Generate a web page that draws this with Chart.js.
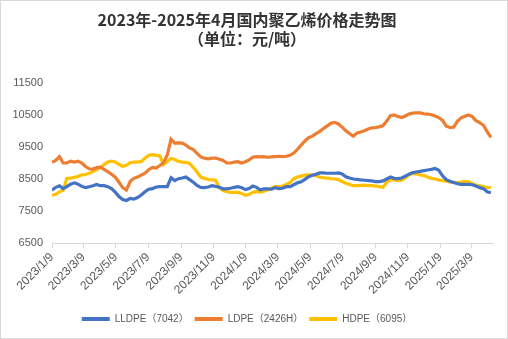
<!DOCTYPE html>
<html lang="zh-CN">
<head>
    <meta charset="UTF-8">
    <title>2023年-2025年4月国内聚乙烯价格走势图</title>
    <script src="https://cdn.jsdelivr.net/npm/chart.js"></script>
    <style>
        body { margin: 0; background: #fff; }
        #wrap {
            width: 508px;
            height: 339px;
            box-sizing: border-box;
            border: 1px solid #d9d9d9;
        }
    </style>
</head>
<body>
    <div id="wrap"><canvas id="chart" width="506" height="337"></canvas></div>
    <script>
        // weekly price samples, yuan per ton
        var dates = [
            '2023/1/9','2023/1/16','2023/1/23','2023/1/30','2023/2/6','2023/2/13','2023/2/20','2023/2/27',
            '2023/3/6','2023/3/13','2023/3/20','2023/3/27','2023/4/3','2023/4/10','2023/4/17','2023/4/24',
            '2023/5/1','2023/5/8','2023/5/15','2023/5/22','2023/5/29','2023/6/5','2023/6/12','2023/6/19',
            '2023/6/26','2023/7/3','2023/7/10','2023/7/17','2023/7/24','2023/7/31','2023/8/7','2023/8/14',
            '2023/8/21','2023/8/28','2023/9/4','2023/9/11','2023/9/18','2023/9/25','2023/10/2','2023/10/9',
            '2023/10/16','2023/10/23','2023/10/30','2023/11/6','2023/11/13','2023/11/20','2023/11/27','2023/12/4',
            '2023/12/11','2023/12/18','2023/12/25','2024/1/1','2024/1/8','2024/1/15','2024/1/22','2024/1/29',
            '2024/2/5','2024/2/12','2024/2/19','2024/2/26','2024/3/4','2024/3/11','2024/3/18','2024/3/25',
            '2024/4/1','2024/4/8','2024/4/15','2024/4/22','2024/4/29','2024/5/6','2024/5/13','2024/5/20',
            '2024/5/27','2024/6/3','2024/6/10','2024/6/17','2024/6/24','2024/7/1','2024/7/8','2024/7/15',
            '2024/7/22','2024/7/29','2024/8/5','2024/8/12','2024/8/19','2024/8/26','2024/9/2','2024/9/9',
            '2024/9/16','2024/9/23','2024/9/30','2024/10/7','2024/10/14','2024/10/21','2024/10/28','2024/11/4',
            '2024/11/11','2024/11/18','2024/11/25','2024/12/2','2024/12/9','2024/12/16','2024/12/23','2024/12/30',
            '2025/1/6','2025/1/13','2025/1/20','2025/1/27','2025/2/3','2025/2/10','2025/2/17','2025/2/24',
            '2025/3/3','2025/3/10','2025/3/17','2025/3/24','2025/3/31','2025/4/7','2025/4/14'
        ];

        var lldpe = [
            8150,8240,8290,8200,8260,8340,8380,8340,8270,8230,8260,8290,8330,8290,8290,8260,
            8200,8090,7950,7860,7830,7890,7870,7920,8000,8100,8180,8200,8250,8260,8260,8260,
            8540,8450,8510,8530,8560,8480,8400,8300,8240,8230,8250,8290,8270,8240,8190,8190,
            8210,8240,8260,8230,8170,8200,8280,8240,8160,8190,8190,8180,8230,8200,8210,8260,
            8260,8320,8380,8410,8490,8570,8620,8650,8690,8690,8680,8680,8680,8690,8660,8570,
            8530,8500,8490,8470,8460,8450,8440,8420,8420,8440,8500,8560,8520,8510,8530,8590,
            8650,8700,8720,8740,8760,8780,8800,8830,8770,8600,8480,8430,8390,8350,8330,8330,
            8330,8320,8280,8230,8200,8100,8070
        ];

        var ldpe = [
            9020,9080,9200,9000,9000,9060,9030,9060,9000,8890,8820,8810,8860,8870,8800,8730,
            8650,8560,8400,8230,8150,8420,8520,8560,8620,8680,8790,8860,8840,8920,9010,9250,
            9740,9620,9630,9620,9560,9470,9420,9300,9190,9150,9130,9150,9150,9120,9080,9000,
            9000,9030,9040,9000,9040,9100,9180,9200,9190,9200,9180,9190,9200,9210,9200,9210,
            9240,9310,9430,9560,9690,9790,9840,9920,9990,10080,10160,10240,10270,10220,10120,10010,
            9920,9840,9940,9970,10010,10060,10100,10110,10130,10170,10310,10480,10500,10450,10420,10470,
            10530,10560,10570,10565,10540,10530,10510,10470,10420,10330,10150,10110,10120,10300,10410,10460,
            10500,10450,10320,10260,10180,9980,9800
        ];

        var hdpe = [
            7990,8020,8100,8150,8520,8530,8550,8580,8630,8640,8680,8730,8790,8860,8950,9030,
            9060,9030,8960,8900,8930,9010,9030,9030,9050,9150,9240,9260,9240,9220,8950,9050,
            9140,9110,9050,9030,9020,8990,8860,8720,8560,8520,8490,8470,8460,8230,8140,8100,
            8080,8080,8080,8050,7990,8020,8080,8110,8090,8120,8160,8220,8260,8260,8280,8330,
            8390,8510,8560,8590,8620,8630,8620,8600,8560,8540,8530,8510,8500,8480,8420,8370,
            8330,8290,8290,8300,8310,8290,8290,8280,8260,8240,8400,8470,8470,8450,8460,8530,
            8630,8670,8660,8630,8610,8560,8520,8500,8470,8450,8430,8410,8390,8390,8400,8420,
            8420,8350,8310,8290,8260,8240,8230
        ];

        var tickDates = [
            '2023/1/9','2023/3/9','2023/5/9','2023/7/9','2023/9/9','2023/11/9','2024/1/9',
            '2024/3/9','2024/5/9','2024/7/9','2024/9/9','2024/11/9','2025/1/9','2025/3/9'
        ];
        var axisEnd = '2025/4/18';
        var yTicks = [6500, 7500, 8500, 9500, 10500, 11500];

        var seriesNames = ['LLDPE（7042）', 'LDPE（2426H）', 'HDPE（6095）'];
        var seriesColors = ['#4472C4', '#ED7D31', '#FFC000'];

        // days since the first sample
        function dayOf(s) {
            var p = s.split('/').map(Number);
            return (Date.UTC(p[0], p[1] - 1, p[2]) - Date.UTC(2023, 0, 9)) / 86400000;
        }

        var tickDays = tickDates.map(dayOf);
        var tickLabel = {};
        tickDates.forEach(function(t) { tickLabel[dayOf(t)] = t; });

        function toPoints(values) {
            return values.map(function(v, i) { return { x: dayOf(dates[i]), y: v }; });
        }

        var labelFont = 'Liberation Sans, Arial, "Noto Sans CJK SC", sans-serif';

        new Chart(document.getElementById('chart'), {
            type: 'line',
            data: {
                datasets: [lldpe, ldpe, hdpe].map(function(vals, i) {
                    return {
                        label: seriesNames[i],
                        data: toPoints(vals),
                        borderColor: seriesColors[i],
                        backgroundColor: seriesColors[i],
                        borderWidth: 3.2,
                        pointRadius: 0,
                        tension: 0
                    };
                })
            },
            options: {
                responsive: false,
                animation: false,
                layout: { padding: { top: 0, right: 14, bottom: 4, left: 0 } },
                plugins: {
                    title: {
                        display: true,
                        text: ['2023年-2025年4月国内聚乙烯价格走势图', '（单位：元/吨）'],
                        color: '#333333',
                        font: { family: '"Noto Sans CJK SC", sans-serif', size: 16, weight: 'bold', lineHeight: 1.2 },
                        padding: { top: 9, bottom: 34.6 }
                    },
                    legend: {
                        position: 'bottom',
                        labels: {
                            boxWidth: 28,
                            boxHeight: 4,
                            padding: 6,
                            color: '#595959',
                            font: { family: labelFont, size: 10 },
                            generateLabels: function(chart) {
                                return Chart.defaults.plugins.legend.labels.generateLabels(chart).map(function(l) {
                                    l.lineWidth = 0;
                                    l.fillStyle = l.strokeStyle;
                                    return l;
                                });
                            }
                        }
                    },
                    tooltip: { enabled: false }
                },
                scales: {
                    x: {
                        type: 'linear',
                        min: 0,
                        max: dayOf(axisEnd),
                        afterBuildTicks: function(scale) {
                            scale.ticks = tickDays.map(function(d) { return { value: d }; });
                        },
                        afterFit: function(scale) { scale.height = 65; },
                        grid: {
                            display: true,
                            drawOnChartArea: false,
                            drawTicks: true,
                            tickLength: 5,
                            color: '#d9d9d9'
                        },
                        border: { display: true, color: '#d9d9d9', width: 1 },
                        ticks: {
                            autoSkip: false,
                            minRotation: 45,
                            maxRotation: 45,
                            padding: 2,
                            color: '#595959',
                            font: { family: labelFont, size: 12 },
                            callback: function(v) { return tickLabel[v] || ''; }
                        }
                    },
                    y: {
                        min: yTicks[0],
                        max: yTicks[yTicks.length - 1],
                        afterBuildTicks: function(scale) {
                            scale.ticks = yTicks.map(function(v) { return { value: v }; });
                        },
                        afterFit: function(scale) { scale.width = 51; },
                        grid: { display: false, drawTicks: false },
                        border: { display: false },
                        ticks: {
                            padding: 9,
                            color: '#595959',
                            font: { family: labelFont, size: 11 },
                            callback: function(v) { return String(v); }
                        }
                    }
                }
            }
        });
    </script>
</body>
</html>
